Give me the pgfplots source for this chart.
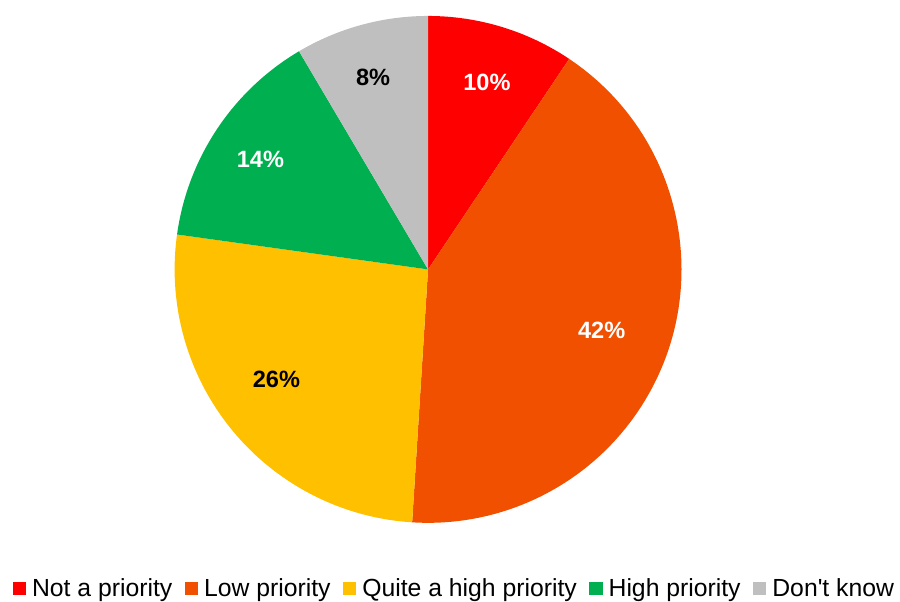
\documentclass[border=0pt]{standalone}
\usepackage{pgfplots}
\pgfplotsset{compat=1.18}
\usepackage{pgfplotstable}
\usepackage{fontspec}
\setmainfont{Liberation Sans}
\definecolor{cRed}{HTML}{FF0000}
\definecolor{cOrange}{HTML}{F05000}
\definecolor{cYellow}{HTML}{FFC000}
\definecolor{cGreen}{HTML}{00B050}
\definecolor{cGray}{HTML}{BFBFBF}

% value = share in percent, lx/ly = label position (pixels from top-left)
\pgfplotstableread{
value lx ly
9.4   488 83
41.6  603 331
26.2  277 380
14.3  261 160
8.5   374 78
}\piedata

\newcommand\slice[4]{%
  \fill[#2] (axis cs:\csname sx#1\endcsname,\csname sy#1\endcsname)
     arc[start angle=\csname sa#1\endcsname, end angle=\csname ea#1\endcsname, radius=127pt]
     -- (axis cs:429,331) -- cycle;
  \node[text=#3, font=\bfseries\fontsize{11.8}{12}\selectfont]
     at (axis cs:\csname lx#1\endcsname,\csname ly#1\endcsname) {#4};
}

\begin{document}
\begin{tikzpicture}
\def\cum{0}
\pgfplotsforeachungrouped \i in {0,...,4}{%
  \pgfplotstablegetelem{\i}{value}\of\piedata
  \let\val\pgfplotsretval
  \pgfmathsetmacro\sa{90-3.6*\cum}
  \pgfmathsetmacro\newcum{\cum+\val}
  \global\let\cum\newcum
  \pgfmathsetmacro\ea{90-3.6*\cum}
  \pgfmathsetmacro\sx{429+254*cos(\sa)}
  \pgfmathsetmacro\sy{331+254*sin(\sa)}
  \expandafter\xdef\csname sa\i\endcsname{\sa}
  \expandafter\xdef\csname ea\i\endcsname{\ea}
  \expandafter\xdef\csname sx\i\endcsname{\sx}
  \expandafter\xdef\csname sy\i\endcsname{\sy}
  \pgfplotstablegetelem{\i}{lx}\of\piedata
  \expandafter\xdef\csname lx\i\endcsname{\pgfplotsretval}
  \pgfplotstablegetelem{\i}{ly}\of\piedata
  \pgfmathsetmacro\tmp{601-\pgfplotsretval}
  \expandafter\xdef\csname ly\i\endcsname{\tmp}
}
\begin{axis}[
  x=0.5pt, y=0.5pt,
  xmin=0, xmax=900, ymin=0, ymax=601,
  hide axis, clip=false,
  legend columns=5,
  legend style={at={(axis cs:457.5,11)}, anchor=center, draw=none,
    font=\fontsize{12.4}{14}\selectfont, inner sep=0pt,
    /tikz/every even column/.append style={column sep=3.3pt},
    nodes={inner xsep=3pt, inner ysep=1pt}},
  legend image code/.code={\fill[#1] (0pt,-3.3pt) rectangle (6.6pt,3.3pt);},
]
\path (axis cs:0,0) (axis cs:900,601);
\slice{0}{cRed}{white}{10\%}
\slice{1}{cOrange}{white}{42\%}
\slice{2}{cYellow}{black}{26\%}
\slice{3}{cGreen}{white}{14\%}
\slice{4}{cGray}{black}{8\%}
\addlegendimage{fill=cRed, draw=none}
\addlegendentry{Not a priority}
\addlegendimage{fill=cOrange, draw=none}
\addlegendentry{Low priority}
\addlegendimage{fill=cYellow, draw=none}
\addlegendentry{Quite a high priority}
\addlegendimage{fill=cGreen, draw=none}
\addlegendentry{High priority}
\addlegendimage{fill=cGray, draw=none}
\addlegendentry{Don\textquotesingle t know}
\end{axis}
\end{tikzpicture}
\end{document}
